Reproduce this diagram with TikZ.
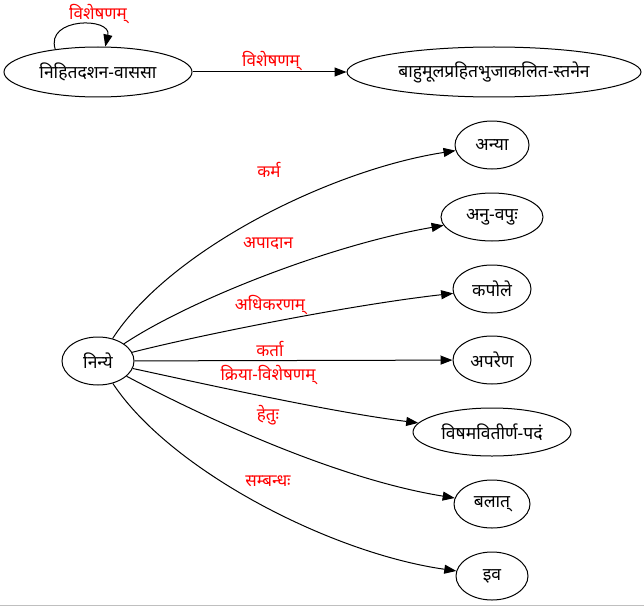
\documentclass[tikz,border=0pt]{standalone}
\usepackage{fontspec}
\newfontfamily\deva[Script=Devanagari]{Noto Sans}
\usetikzlibrary{arrows.meta,shapes.geometric}
\newcommand\mytxt[1]{\makebox[0pt]{#1}}
\begin{document}
\begin{tikzpicture}[x=1pt,y=-1pt,
  nd/.style={draw, ellipse, line width=1pt, inner sep=0pt, minimum height=48pt,
    font=\deva\fontsize{17.5}{20}\selectfont},
  lbl/.style={text=red, inner sep=0pt, font=\deva\fontsize{17}{20}\selectfont},
  edge/.style={-{Triangle[length=12pt,width=9pt]}, line width=1pt}]
\useasboundingbox (0,0) rectangle (644,607);
\draw[gray!50, line width=1.2pt] (0,605.5) -- (644,605.5);
% top part
\node[nd, minimum width=188pt, minimum height=50pt] (A) at (98,72) {\mytxt{निहितदशन-वाससा}};
\node[nd, minimum width=294pt, minimum height=50pt] (B) at (494,72) {\mytxt{बाहुमूलप्रहितभुजाकलित-स्तनेन}};
\draw[edge] (A.152) .. controls (45,17) and (112,17) .. (A.74);
\node[lbl] (lA) at (98,14) {विशेषणम्};
\draw[edge] (A) -- (B);
\node[lbl] (lAB) at (271,61) {विशेषणम्};
% star
\node[nd, minimum width=72pt] (n) at (98,361) {\mytxt{निन्ये}};
\node[nd, minimum width=74pt] (e1) at (492,145) {\mytxt{अन्या}};
\node[nd, minimum width=102pt] (e2) at (492,217) {\mytxt{अनु-वपुः}};
\node[nd, minimum width=78pt] (e3) at (492,289) {\mytxt{कपोले}};
\node[nd, minimum width=78pt] (e4) at (492,360) {\mytxt{अपरेण}};
\node[nd, minimum width=158pt] (e5) at (492,432) {\mytxt{विषमवितीर्ण-पदं}};
\node[nd, minimum width=76pt] (e6) at (492,504) {\mytxt{बलात्}};
\node[nd, minimum width=72pt] (e7) at (492,576) {\mytxt{इव}};
\draw[edge] (n) .. controls (170,250) and (330,170) .. (e1);
\draw[edge] (n) .. controls (190,300) and (330,245) .. (e2);
\draw[edge] (n) .. controls (200,335) and (350,305) .. (e3);
\draw[edge] (n) -- (e4);
\draw[edge] (n) .. controls (200,383) and (330,412) .. (e5);
\draw[edge] (n) .. controls (190,410) and (330,478) .. (e6);
\draw[edge] (n) .. controls (170,470) and (330,553) .. (e7);
\node[lbl] (l1) at (269,170) {कर्म};
\node[lbl] (l2) at (268,244) {अपादान};
\node[lbl] (l3) at (270,305) {अधिकरणम्};
\node[lbl] (l4) at (270,349) {कर्ता};
\node[lbl] (l5) at (268,375) {क्रिया-विशेषणम्};
\node[lbl] (l6) at (268,415) {हेतुः};
\node[lbl] (l7) at (268,481) {सम्बन्धः};
\end{tikzpicture}
\end{document}
